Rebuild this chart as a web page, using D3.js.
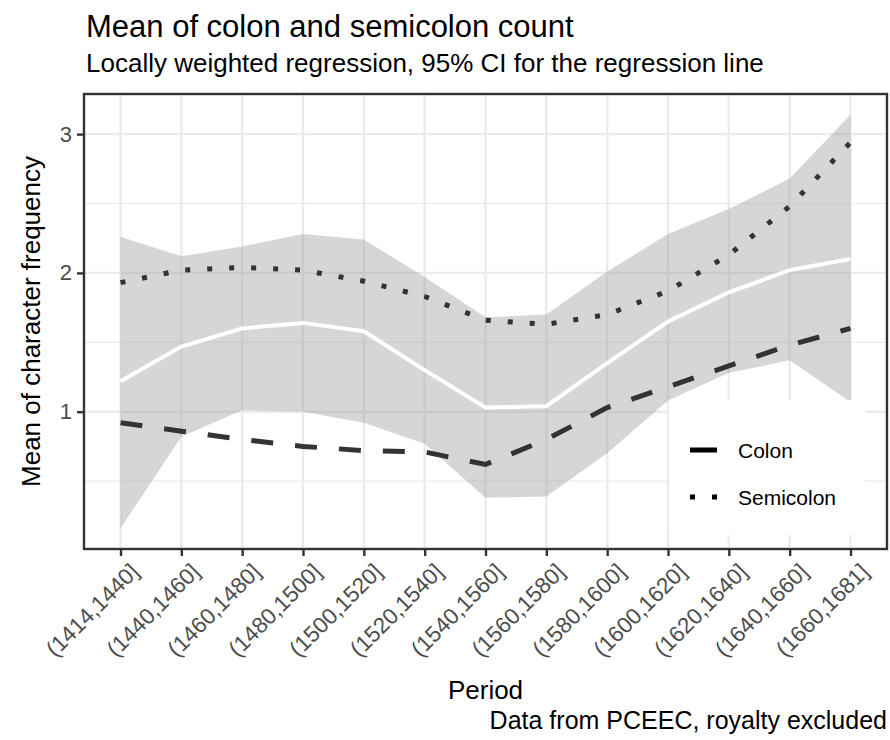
<!DOCTYPE html>
<html>
<head>
<meta charset="utf-8">
<script src="https://cdn.jsdelivr.net/npm/d3@7"></script>
<style>
  body { margin: 0; background: #fff; }
  text { font-family: "Liberation Sans", Arial, sans-serif; }
</style>
</head>
<body>
<div id="chart-area"></div>
<script>
/*
*    Mean of colon and semicolon count per period
*/

let periods = ["(1414,1440]", "(1440,1460]", "(1460,1480]", "(1480,1500]", "(1500,1520]",
               "(1520,1540]", "(1540,1560]", "(1560,1580]", "(1580,1600]", "(1600,1620]",
               "(1620,1640]", "(1640,1660]", "(1660,1681]"];

// regression line and its 95% CI
let fit     = [1.22, 1.47, 1.60, 1.64, 1.58, 1.30, 1.03, 1.04, 1.35, 1.65, 1.86, 2.02, 2.10];
let ciLower = [0.16, 0.82, 1.01, 1.00, 0.92, 0.77, 0.38, 0.39, 0.70, 1.08, 1.28, 1.37, 1.07];
let ciUpper = [2.26, 2.12, 2.19, 2.28, 2.24, 1.97, 1.68, 1.70, 2.01, 2.28, 2.46, 2.68, 3.14];

// mean counts
let colon     = [0.92, 0.86, 0.80, 0.75, 0.72, 0.71, 0.62, 0.80, 1.03, 1.18, 1.33, 1.48, 1.60];
let semicolon = [1.93, 2.02, 2.04, 2.02, 1.94, 1.83, 1.66, 1.63, 1.70, 1.87, 2.13, 2.48, 2.94];

let yTicks = [1, 2, 3];
let yMinor = [0.5, 1.5, 2.5];

let margin = { left:84, right:3, top:94, bottom:191 };
let width = 890 - margin.left - margin.right;
let height = 740 - margin.top - margin.bottom;

let svg = d3.select("#chart-area")
            .append("svg")
            .attr("width", 890)
            .attr("height", 740);

let g = svg.append("g")
           .attr("transform", "translate(" + margin.left + "," + margin.top + ")");

let xScale = d3.scalePoint()
               .domain(periods)
               .range([0, width])
               .padding(0.6);

let lo = d3.min(ciLower), hi = d3.max(ciUpper);
let pad = (hi - lo) * 0.05;
let yScale = d3.scaleLinear()
               .domain([lo - pad, hi + pad])
               .range([height, 0]);

// GRID
g.selectAll(".minor")
    .data(yMinor)
    .enter().append("line")
    .attr("x1", 0).attr("x2", width)
    .attr("y1", d => yScale(d)).attr("y2", d => yScale(d))
    .attr("stroke", "#ebebeb")
    .attr("stroke-width", 1.2);

g.selectAll(".major-y")
    .data(yTicks)
    .enter().append("line")
    .attr("x1", 0).attr("x2", width)
    .attr("y1", d => yScale(d)).attr("y2", d => yScale(d))
    .attr("stroke", "#ebebeb")
    .attr("stroke-width", 2.4);

g.selectAll(".major-x")
    .data(periods)
    .enter().append("line")
    .attr("x1", d => xScale(d)).attr("x2", d => xScale(d))
    .attr("y1", 0).attr("y2", height)
    .attr("stroke", "#ebebeb")
    .attr("stroke-width", 2.4);

// RIBBON
let area = d3.area()
             .x((d, i) => xScale(periods[i]))
             .y0((d, i) => yScale(ciLower[i]))
             .y1((d, i) => yScale(ciUpper[i]));

g.append("path")
    .attr("d", area(periods))
    .attr("fill", "#999999")
    .attr("fill-opacity", 0.4);

let line = function(vals) {
    return d3.line()
             .x((d, i) => xScale(periods[i]))
             .y(d => yScale(d))(vals);
};

g.append("path")
    .attr("d", line(fit))
    .attr("fill", "none")
    .attr("stroke", "#ffffff")
    .attr("stroke-width", 4);

g.append("path")
    .attr("d", line(colon))
    .attr("fill", "none")
    .attr("stroke", "#333333")
    .attr("stroke-width", 5)
    .attr("stroke-dasharray", "22,22");

g.append("path")
    .attr("d", line(semicolon))
    .attr("fill", "none")
    .attr("stroke", "#333333")
    .attr("stroke-width", 5)
    .attr("stroke-dasharray", "5,17");

// LEGEND
let legend = g.append("g")
              .attr("transform", "translate(" + (669 - margin.left) + "," + (400 - margin.top) + ")");

legend.append("rect")
    .attr("width", 196)
    .attr("height", 135)
    .attr("fill", "#ffffff");

let keys = [
    { label: "Colon", dash: "23,0", y: 50 },
    { label: "Semicolon", dash: "5,17", y: 97 }
];

keys.forEach(function(k) {
    legend.append("line")
        .attr("x1", 21).attr("x2", 48)
        .attr("y1", k.y).attr("y2", k.y)
        .attr("stroke", "#000000")
        .attr("stroke-width", 5)
        .attr("stroke-dasharray", k.dash);
    legend.append("text")
        .attr("x", 69)
        .attr("y", k.y + 8)
        .attr("font-size", "21px")
        .text(k.label);
});

// PANEL BORDER
g.append("rect")
    .attr("width", width)
    .attr("height", height)
    .attr("fill", "none")
    .attr("stroke", "#333333")
    .attr("stroke-width", 2.4);

// AXES
let yAxis = d3.axisLeft(yScale)
              .tickValues(yTicks)
              .tickFormat(d3.format("d"))
              .tickSize(7)
              .tickPadding(5);
let yG = g.append("g").call(yAxis);
yG.select(".domain").remove();
yG.selectAll("line").attr("stroke", "#333333").attr("stroke-width", 2.4);
yG.selectAll("text")
    .attr("font-size", "22px")
    .attr("fill", "#4d4d4d")
    .attr("font-family", "Liberation Sans, Arial, sans-serif");

let xAxis = d3.axisBottom(xScale)
              .tickSize(7);
let xG = g.append("g")
          .attr("transform", "translate(0," + height + ")")
          .call(xAxis);
xG.select(".domain").remove();
xG.selectAll("line").attr("stroke", "#333333").attr("stroke-width", 2.4);
xG.selectAll("text")
    .attr("font-size", "22.5px")
    .attr("fill", "#4d4d4d")
    .attr("font-family", "Liberation Sans, Arial, sans-serif")
    .attr("text-anchor", "end")
    .attr("x", 0)
    .attr("y", 0)
    .attr("dy", "0.7em")
    .attr("transform", "translate(8,13) rotate(-45)");

// TITLES
svg.append("text")
    .attr("x", 86)
    .attr("y", 37)
    .attr("font-size", "31px")
    .text("Mean of colon and semicolon count");

svg.append("text")
    .attr("x", 86)
    .attr("y", 72)
    .attr("font-size", "26px")
    .text("Locally weighted regression, 95% CI for the regression line");

// Y LABEL
svg.append("text")
    .attr("transform", "translate(40," + (margin.top + height / 2) + ") rotate(-90)")
    .attr("text-anchor", "middle")
    .attr("font-size", "26px")
    .text("Mean of character frequency");

// X LABEL
svg.append("text")
    .attr("x", margin.left + width / 2)
    .attr("y", 699)
    .attr("text-anchor", "middle")
    .attr("font-size", "26px")
    .text("Period");

// CAPTION
svg.append("text")
    .attr("x", 887)
    .attr("y", 729)
    .attr("text-anchor", "end")
    .attr("font-size", "25px")
    .text("Data from PCEEC, royalty excluded");
</script>
</body>
</html>
